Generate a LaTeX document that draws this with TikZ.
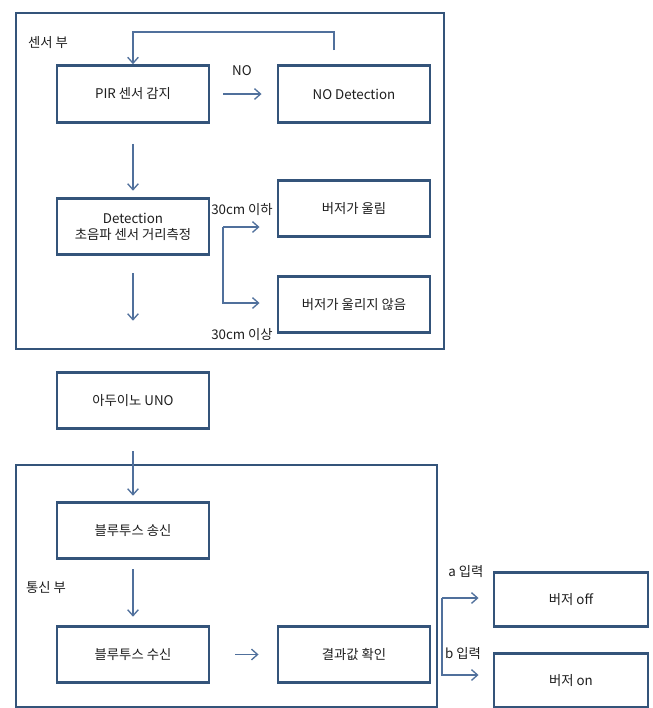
\documentclass[tikz,border=0pt]{standalone}
\usepackage{fontspec}
\setmainfont{Noto Sans CJK KR}
\usetikzlibrary{arrows.meta}
\definecolor{boxc}{HTML}{34547A}
\definecolor{arrc}{HTML}{50709C}
\definecolor{txtc}{HTML}{1E1E1E}
\begin{document}
\begin{tikzpicture}[x=0.75pt,y=-0.75pt,
  font=\fontsize{10}{12}\selectfont, text=txtc,
  box/.style={draw=boxc, line width=2.2pt, fill=white, align=center,
    minimum width=114pt, minimum height=42.5pt, inner sep=0pt},
  frame/.style={draw=boxc, line width=2.2pt},
  arr/.style={draw=arrc, line width=1pt, -{Straight Barb[length=4.5pt,width=8pt]}},
  ln/.style={draw=arrc, line width=1pt},
  lbl/.style={inner sep=0pt}]
\useasboundingbox (0,0) rectangle (653,708);
\fill[white] (0,0) rectangle (653,708);

% group frames
\draw[frame] (16,13) rectangle (444,349);
\draw[frame] (16,465) rectangle (437,707);

% nodes
\node[box] (PIR) at (133,94) {PIR 센서 감지};
\node[box] (NOD) at (354,94) {NO Detection};
\node[box] (DET) at (133,226.5) {Detection\\초음파 센서 거리측정};
\node[box] (RING) at (354,208.5) {버저가 울림};
\node[box] (NORING) at (354,304.5) {버저가 울리지 않음};
\node[box] (UNO) at (133,400.5) {아두이노 UNO};
\node[box] (BTX) at (133,530.5) {블루투스 송신};
\node[box] (BRX) at (133,654.5) {블루투스 수신};
\node[box] (RES) at (354,654.5) {결과값 확인};
\node[box, minimum width=115.5pt, minimum height=41pt] (OFF) at (571,599.5) {버저 off};
\node[box, minimum width=115.5pt, minimum height=41pt] (ON) at (571,680.5) {버저 on};

% labels
\node[lbl] (lsens) at (48,43) {센서 부};
\node[lbl] (lcomm) at (46,588) {통신 부};
\node[lbl] (lno) at (242,71) {NO};
\node[lbl] (lle) at (242,210) {30cm 이하};
\node[lbl] (lge) at (242,335) {30cm 이상};
\node[lbl] (la) at (466,572) {a 입력};
\node[lbl] (lb) at (463,654) {b 입력};

% feedback loop
\coordinate (fb1) at (334,50);
\coordinate (fb2) at (334,32);
\draw[arr] (fb1) -- (fb2) -- (fb2 -| PIR.north) -- (PIR.north);

% main arrows
\draw[arr, shorten <=9.75pt, shorten >=11.25pt] (PIR) -- (NOD);
\draw[arr, shorten <=15pt, shorten >=4.5pt] (PIR) -- (DET);
\draw[arr, shorten <=12.75pt, shorten >=37.5pt] (DET) -- (UNO);
\draw[arr, shorten <=15.75pt, shorten >=3.75pt] (UNO) -- (BTX);
\draw[arr, shorten <=6.75pt, shorten >=6pt] (BTX) -- (BRX);
\draw[arr, shorten <=18.75pt, shorten >=13.5pt] (BRX) -- (RES);

% distance branch
\coordinate (bt) at (223,227);
\coordinate (bb) at (223,303);
\draw[arr, shorten >=12.75pt] (bt) -- (bt -| RING.west);
\draw[arr, shorten >=12.75pt] (bt) -- (bb) -- (bb -| NORING.west);

% input branch
\coordinate (it) at (442,598);
\coordinate (ib) at (442,675);
\draw[arr, shorten >=10.5pt] (it) -- (it -| OFF.west);
\draw[arr, shorten >=10.5pt] (it) -- (ib) -- (ib -| ON.west);
\end{tikzpicture}
\end{document}
